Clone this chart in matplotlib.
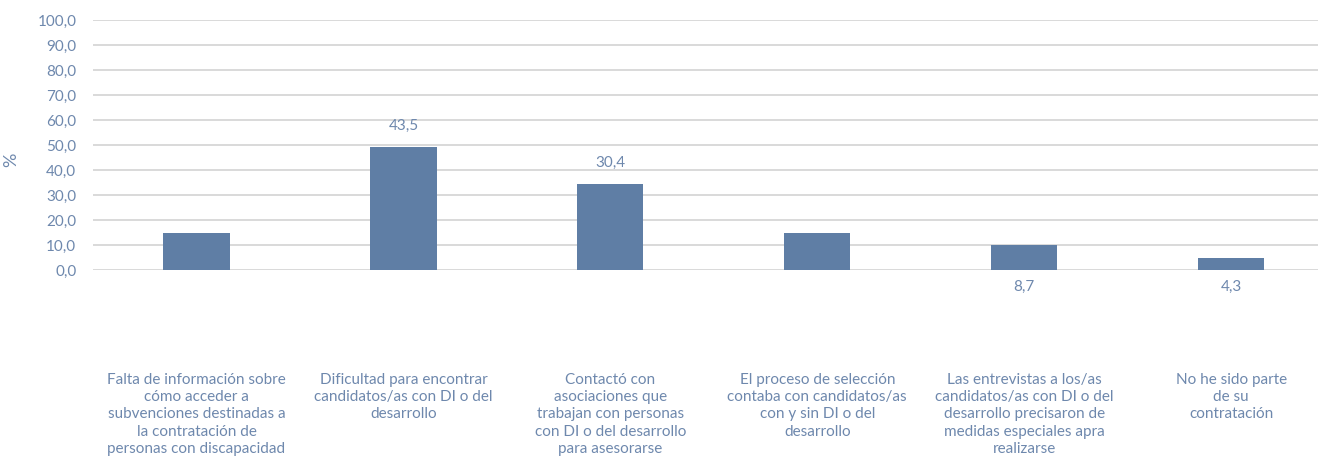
import matplotlib
matplotlib.use("Agg")
import matplotlib.pyplot as plt
import numpy as np

categories = [
    "Falta de información sobre\ncómo acceder a\nsubvenciones destinadas a\nla contratación de\npersonas con discapacidad",
    "Dificultad para encontrar\ncandidatos/as con DI o del\ndesarrollo",
    "Contactó con\nasociaciones que\ntrabajan con personas\ncon DI o del desarrollo\npara asesorarse",
    "El proceso de selección\ncontaba con candidatos/as\ncon y sin DI o del\ndesarrollo",
    "Las entrevistas a los/as\ncandidatos/as con DI o del\ndesarrollo precisaron de\nmedidas especiales apra\nrealizarse",
    "No he sido parte\nde su\ncontratación",
]
values = [13.0, 43.5, 30.4, 13.0, 8.7, 4.3]
# only these bars carry a visible value label in the original
labeled = [False, True, True, False, True, True]
yticks = np.arange(0, 101, 10)

bar_color = "#5F7EA5"
text_color = "#6E88AD"
grid_color = "#D3D3D3"

plt.rcParams["font.family"] = ["Lato", "DejaVu Sans"]

fig = plt.figure(figsize=(13.18, 4.69), dpi=100)
# grid axis (0-100 scale)
ax_grid = fig.add_axes([0.0706, 0.4243, 0.9294, 0.5331])
ax_grid.set_ylim(0, 100)
ax_grid.set_yticks(yticks)
ax_grid.set_yticklabels([f"{t:.1f}".replace(".", ",") for t in yticks],
                        color=text_color, fontsize=11)
ax_grid.tick_params(axis="y", length=0, pad=12)
ax_grid.grid(axis="y", color=grid_color, linewidth=1.2)
ax_grid.set_axisbelow(True)
ax_grid.set_ylabel("%", color=text_color, fontsize=13)
ax_grid.yaxis.set_label_coords(-0.06, 0.44)

# bars are drawn on their own scale, as in the original rendering
ax = ax_grid.twinx()
x = np.arange(len(categories))
ax.bar(x, values, width=0.32, color=bar_color, zorder=3)
ax.set_ylim(0, 88.3)
ax.set_yticks([])
ax_grid.set_xlim(-0.5, 5.42)
ax.set_xlim(-0.5, 5.42)

for xi, v, show in zip(x, values, labeled):
    if not show:
        continue
    label = f"{v:.1f}".replace(".", ",")
    if v > 20:
        ax.annotate(label, (xi, v), xytext=(0, 15), textcoords="offset points",
                    ha="center", va="center", color=text_color, fontsize=11)
    else:
        ax.annotate(label, (xi, 0), xytext=(0, -12), textcoords="offset points",
                    ha="center", va="center", color=text_color, fontsize=11)

ax_grid.set_xticks(x)
ax_grid.set_xticklabels(categories, color=text_color, fontsize=11,
                        linespacing=1.3, va="top")
ax_grid.tick_params(axis="x", length=0, pad=74)

for a in (ax_grid, ax):
    for s in a.spines.values():
        s.set_visible(False)

fig.savefig("out.png", dpi=100, facecolor="white")
